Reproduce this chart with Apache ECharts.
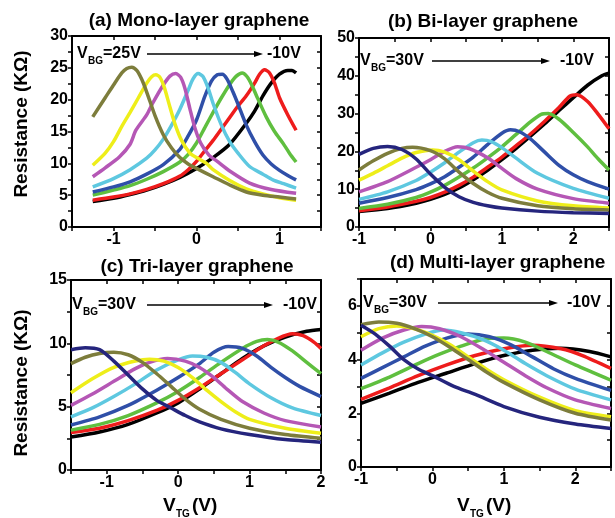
<!DOCTYPE html>
<html>
<head>
<meta charset="utf-8">
<script src="https://cdn.jsdelivr.net/npm/echarts@6/dist/echarts.min.js"></script>
<style>
  html, body { margin: 0; padding: 0; background: #fff; }
  #chart { width: 615px; height: 518px; }
</style>
</head>
<body>
<div id="chart"></div>
<script>
// one colour per back-gate voltage, from -10V (black) up to 30V (navy)
const curveColors = ['#000000', '#ee1c1c', '#5fbf3f', '#2f4fa8', '#5ec8e0', '#b557b5', '#eeee1a', '#7d7d3c', '#25257d'];

// (a) mono-layer: black, red, green, blue, cyan, magenta, yellow, olive  [V_TG, R]
const monoCurves = [
  [[-1.25,4.0],[-1.0,4.5],[-0.8,5.1],[-0.6,5.8],[-0.4,6.7],[-0.2,7.8],[0,9.2],[0.2,10.9],[0.4,13.0],[0.6,16.3],[0.7,18.2],[0.8,20.6],[0.9,22.6],[1.0,24.0],[1.1,24.6],[1.15,24.6],[1.2,24.2]],
  [[-1.25,4.2],[-1.0,4.7],[-0.8,5.2],[-0.6,5.9],[-0.4,6.8],[-0.2,8.0],[-0.1,9.0],[0,10.3],[0.12,12.3],[0.2,13.6],[0.3,15.4],[0.4,17.2],[0.5,19.0],[0.6,20.6],[0.7,22.6],[0.76,24.0],[0.82,24.7],[0.88,24.2],[0.94,22.6],[1.0,20.3],[1.1,17.6],[1.2,15.2]],
  [[-1.25,5.0],[-1.0,5.8],[-0.8,6.5],[-0.6,7.5],[-0.4,8.7],[-0.2,10.2],[-0.1,11.4],[0,13.2],[0.1,15.6],[0.2,18.0],[0.3,20.3],[0.4,22.4],[0.48,23.7],[0.55,24.2],[0.61,23.6],[0.67,22.2],[0.72,20.7],[0.84,17.3],[0.94,15.0],[1.04,13.2],[1.12,11.6],[1.2,10.2]],
  [[-1.25,5.5],[-1.0,6.3],[-0.8,7.1],[-0.6,8.3],[-0.4,9.8],[-0.2,12.2],[-0.1,14.3],[0,16.8],[0.1,20.5],[0.18,22.9],[0.25,23.9],[0.31,24.0],[0.37,23.2],[0.44,21.2],[0.5,19.3],[0.6,16.0],[0.7,13.4],[0.8,11.3],[0.9,9.9],[1.0,8.9],[1.1,8.1],[1.2,7.4]],
  [[-1.25,6.3],[-1.0,7.6],[-0.8,9.0],[-0.6,10.8],[-0.5,12.1],[-0.4,13.8],[-0.3,16.0],[-0.2,18.5],[-0.1,21.5],[-0.04,23.3],[0.02,24.1],[0.08,23.6],[0.14,21.8],[0.2,19.4],[0.3,16.0],[0.4,13.4],[0.5,11.6],[0.64,9.5],[0.8,8.3],[0.92,7.4],[1.05,6.8],[1.2,6.1]],
  [[-1.25,7.9],[-1.1,9.3],[-0.93,11.0],[-0.8,13.0],[-0.73,15.2],[-0.6,17.6],[-0.53,19.4],[-0.4,22.3],[-0.32,23.7],[-0.25,24.1],[-0.19,23.5],[-0.14,21.8],[-0.08,18.6],[-0.02,15.6],[0.05,13.2],[0.15,11.3],[0.25,10.3],[0.4,8.8],[0.64,6.9],[0.9,5.9],[1.2,5.3]],
  [[-1.25,9.7],[-1.1,11.6],[-1.0,13.4],[-0.9,15.8],[-0.8,18.0],[-0.7,20.3],[-0.6,22.6],[-0.54,23.6],[-0.49,23.9],[-0.44,23.5],[-0.39,22.0],[-0.33,19.3],[-0.26,16.2],[-0.18,13.6],[-0.08,11.6],[0,10.9],[0.12,10.0],[0.2,9.0],[0.4,7.3],[0.6,6.0],[0.8,5.2],[1.0,4.6],[1.2,4.2]],
  [[-1.25,17.3],[-1.1,20.3],[-1.0,22.3],[-0.9,24.2],[-0.84,24.9],[-0.78,25.1],[-0.72,24.6],[-0.66,23.2],[-0.6,21.2],[-0.5,17.5],[-0.4,14.5],[-0.3,12.4],[-0.2,10.9],[-0.1,9.9],[0,9.2],[0.2,7.9],[0.4,6.6],[0.6,5.5],[0.8,5.0],[1.0,4.7],[1.2,4.4]]
];

// (b) bi-layer: black ... navy
const biCurves = [
  [[-1,4.1],[-0.6,4.9],[-0.2,6.3],[0,7.3],[0.2,8.6],[0.4,10.3],[0.6,12.5],[0.8,15.0],[1.0,17.8],[1.2,20.8],[1.4,24.0],[1.6,27.3],[1.8,30.8],[2.0,34.2],[2.2,37.5],[2.4,40.0],[2.5,40.7]],
  [[-1,4.3],[-0.6,5.3],[-0.2,6.8],[0,7.8],[0.2,9.2],[0.4,11.0],[0.6,13.2],[0.8,15.8],[1.0,18.5],[1.2,21.5],[1.4,24.6],[1.6,28.0],[1.8,31.6],[1.95,34.6],[2.05,35.0],[2.2,33.2],[2.35,29.8],[2.5,26.0]],
  [[-1,4.9],[-0.6,6.0],[-0.2,7.8],[0,9.2],[0.2,11.0],[0.4,13.2],[0.6,15.6],[0.8,18.3],[1.0,21.2],[1.2,24.5],[1.4,27.8],[1.55,29.8],[1.65,30.0],[1.8,28.5],[2.0,25.0],[2.2,21.2],[2.35,18.0],[2.5,15.1]],
  [[-1,6.3],[-0.6,7.8],[-0.2,9.9],[0,11.4],[0.2,13.3],[0.4,15.8],[0.6,18.5],[0.8,21.8],[1.0,24.8],[1.12,25.7],[1.25,25.2],[1.4,23.3],[1.6,19.8],[1.8,16.3],[2.0,13.8],[2.2,12.0],[2.5,10.0]],
  [[-1,7.3],[-0.6,9.3],[-0.2,12.3],[0,14.5],[0.2,17.0],[0.4,19.8],[0.6,22.3],[0.72,23.0],[0.85,22.6],[1.0,21.0],[1.2,18.2],[1.5,14.2],[2.0,10.2],[2.5,7.6]],
  [[-1,9.3],[-0.6,12.0],[-0.2,15.8],[0,17.8],[0.2,20.0],[0.38,21.2],[0.55,20.7],[0.8,18.3],[1.0,15.5],[1.2,12.8],[1.5,10.0],[2.0,7.5],[2.5,6.3]],
  [[-1,12.4],[-0.8,14.2],[-0.6,16.2],[-0.4,18.2],[-0.2,19.7],[0.03,20.4],[0.2,19.8],[0.4,17.8],[0.6,14.8],[0.8,12.0],[1.0,9.8],[1.5,6.9],[2.0,5.6],[2.5,5.0]],
  [[-1,15.1],[-0.8,17.5],[-0.6,19.5],[-0.4,20.8],[-0.25,21.1],[0,20.2],[0.2,18.0],[0.4,14.5],[0.6,11.5],[0.8,9.2],[1.0,7.6],[1.5,5.6],[2.0,4.8],[2.5,4.5]],
  [[-1,19.2],[-0.8,20.8],[-0.6,21.3],[-0.4,20.5],[-0.2,18.0],[0,14.0],[0.2,10.5],[0.4,8.0],[0.6,6.5],[0.8,5.6],[1.0,5.0],[1.5,4.2],[2.0,3.8],[2.5,3.6]]
];

// (c) tri-layer
const triCurves = [
  [[-1.5,2.6],[-1.1,3.0],[-0.7,3.6],[-0.3,4.5],[0,5.3],[0.3,6.4],[0.6,7.6],[0.9,8.8],[1.2,9.8],[1.5,10.5],[1.8,10.95],[2.0,11.1]],
  [[-1.5,2.95],[-1.1,3.3],[-0.7,3.9],[-0.3,4.7],[0,5.5],[0.3,6.5],[0.6,7.6],[0.9,8.7],[1.2,9.8],[1.4,10.4],[1.6,10.75],[1.75,10.6],[1.9,10.1],[2.0,9.6]],
  [[-1.5,3.15],[-1.1,3.6],[-0.7,4.3],[-0.3,5.3],[0,6.2],[0.3,7.3],[0.6,8.5],[0.9,9.6],[1.1,10.15],[1.25,10.3],[1.4,10.1],[1.6,9.4],[1.8,8.5],[2.0,7.6]],
  [[-1.5,3.55],[-1.1,4.2],[-0.7,5.1],[-0.3,6.3],[0,7.3],[0.3,8.4],[0.5,9.3],[0.7,9.75],[0.9,9.6],[1.1,9.0],[1.3,8.1],[1.5,7.3],[1.7,6.6],[2.0,5.8]],
  [[-1.5,4.2],[-1.2,4.9],[-0.9,5.8],[-0.6,6.8],[-0.3,7.9],[0,8.7],[0.2,9.0],[0.4,8.9],[0.6,8.5],[0.8,7.7],[1.0,6.8],[1.3,5.7],[1.6,4.9],[2.0,4.3]],
  [[-1.5,5.1],[-1.2,6.0],[-0.9,7.0],[-0.6,8.0],[-0.4,8.5],[-0.15,8.8],[0.1,8.6],[0.3,8.1],[0.5,7.3],[0.7,6.3],[0.9,5.4],[1.2,4.5],[1.5,3.9],[2.0,3.4]],
  [[-1.5,6.1],[-1.2,7.2],[-0.9,8.1],[-0.6,8.6],[-0.4,8.75],[-0.2,8.6],[0,8.1],[0.2,7.3],[0.4,6.3],[0.6,5.4],[0.8,4.6],[1.0,4.0],[1.5,3.3],[2.0,2.9]],
  [[-1.5,8.4],[-1.3,8.9],[-1.1,9.2],[-0.9,9.3],[-0.7,9.1],[-0.5,8.5],[-0.3,7.6],[-0.1,6.6],[0.1,5.6],[0.3,4.8],[0.6,4.0],[1.0,3.3],[1.5,2.8],[2.0,2.5]],
  [[-1.5,9.5],[-1.3,9.65],[-1.1,9.5],[-0.9,8.6],[-0.7,7.5],[-0.5,6.4],[-0.3,5.5],[-0.1,4.9],[0.1,4.3],[0.3,3.8],[0.6,3.25],[1.0,2.8],[1.5,2.4],[2.0,2.2]]
];

// (d) multi-layer
const multiCurves = [
  [[-1,2.37],[-0.6,2.75],[-0.2,3.15],[0.2,3.5],[0.6,3.85],[1.0,4.15],[1.4,4.35],[1.8,4.42],[2.2,4.3],[2.5,4.1]],
  [[-1,2.52],[-0.6,2.95],[-0.2,3.4],[0.2,3.8],[0.6,4.15],[1.0,4.4],[1.4,4.53],[1.8,4.4],[2.1,4.15],[2.5,3.67]],
  [[-1,2.92],[-0.6,3.35],[-0.2,3.85],[0.1,4.2],[0.4,4.5],[0.7,4.75],[1.0,4.8],[1.3,4.65],[1.6,4.3],[2.0,3.8],[2.5,3.23]],
  [[-1,3.3],[-0.7,3.7],[-0.4,4.1],[-0.1,4.5],[0.2,4.8],[0.5,4.95],[0.8,4.85],[1.1,4.55],[1.4,4.1],[1.7,3.65],[2.0,3.3],[2.5,2.85]],
  [[-1,3.8],[-0.7,4.25],[-0.4,4.65],[-0.1,4.95],[0.15,5.1],[0.4,5.0],[0.7,4.75],[1.0,4.35],[1.3,3.85],[1.6,3.4],[2.0,2.9],[2.5,2.5]],
  [[-1,4.35],[-0.7,4.8],[-0.4,5.1],[-0.15,5.23],[0.1,5.15],[0.4,4.85],[0.7,4.4],[1.0,3.9],[1.3,3.4],[1.6,2.95],[2.0,2.5],[2.5,2.18]],
  [[-1,4.85],[-0.75,5.15],[-0.5,5.25],[-0.25,5.15],[0,4.9],[0.25,4.55],[0.5,4.1],[0.75,3.65],[1.0,3.25],[1.5,2.6],[2.0,2.1],[2.5,1.87]],
  [[-1,5.3],[-0.75,5.4],[-0.5,5.35],[-0.25,5.15],[0,4.85],[0.25,4.45],[0.5,4.0],[0.75,3.55],[1.0,3.15],[1.5,2.5],[2.0,2.0],[2.5,1.75]],
  [[-1,5.28],[-0.8,4.95],[-0.6,4.5],[-0.4,4.0],[-0.2,3.65],[0,3.4],[0.3,3.0],[0.6,2.7],[1.0,2.25],[1.5,1.85],[2.0,1.6],[2.5,1.43]]
];

const panelTitles = ['(a) Mono-layer graphene', '(b) Bi-layer graphene', '(c) Tri-layer graphene', '(d) Multi-layer graphene'];
const startVoltages = ['=25V', '=30V', '=30V', '=30V'];
const xRanges = [[-1.5, 1.5], [-1, 2.5], [-1.5, 2], [-1, 2.5]];
// [min, max, tick step, label step]
const yRanges = [[0, 30, 2.5, 5], [0, 50, 5, 10], [0, 15, 2.5, 5], [0, 7, 1, 2]];

const panels = [
  { curves: monoCurves, grid: { left: 72, top: 36, width: 249, height: 191 }, title: [199, 21, 'center'], note: [77, 54, 147, 263, 267] },
  { curves: biCurves, grid: { left: 359, top: 38, width: 250, height: 189 }, title: [483, 22, 'center'], note: [360, 61, 432, 550, 560] },
  { curves: triCurves, grid: { left: 71, top: 280, width: 250, height: 190 }, title: [197, 267, 'center'], note: [72, 305, 147, 273, 283] },
  { curves: multiCurves, grid: { left: 361, top: 279, width: 250, height: 188 }, title: [390, 263, 'left'], note: [363, 303, 438, 558, 567] }
];

const FONT = '"Liberation Sans", Arial, sans-serif';
const lineStyle = { color: '#000', width: 2 };
const tickStyle = { color: '#000', width: 1.5 };

function onStep(v, step, max) {
  const r = v / step;
  return Math.abs(r - Math.round(r)) < 1e-6 && v <= max + 1e-9;
}

const xAxis = [], yAxis = [], series = [], graphic = [];

panels.forEach((p, i) => {
  const xr = xRanges[i], yr = yRanges[i];
  const xBase = {
    gridIndex: i, type: 'value', min: xr[0], max: xr[1], interval: 0.5,
    splitLine: { show: false },
    axisLine: { onZero: false, lineStyle: lineStyle }
  };
  xAxis.push(Object.assign({}, xBase, {
    position: 'bottom',
    axisTick: { length: 4, lineStyle: tickStyle },
    axisLabel: {
      margin: 5, color: '#000', fontFamily: FONT, fontWeight: 'bold', fontSize: 16,
      formatter: v => (onStep(v, 1, xr[1]) && v > xr[0] - 1e-9) ? String(Math.round(v)) : ''
    }
  }));
  xAxis.push(Object.assign({}, xBase, {
    position: 'top',
    axisTick: { inside: true, length: 4, lineStyle: tickStyle },
    axisLabel: { show: false }
  }));
  const yBase = {
    gridIndex: i, type: 'value', min: yr[0], max: yr[1], interval: yr[2],
    splitLine: { show: false },
    axisLine: { show: true, onZero: false, lineStyle: lineStyle }
  };
  yAxis.push(Object.assign({}, yBase, {
    position: 'left',
    axisTick: { length: 4, lineStyle: tickStyle },
    axisLabel: {
      margin: 4, color: '#000', fontFamily: FONT, fontWeight: 'bold', fontSize: 16,
      formatter: v => onStep(v, yr[3], yr[1]) ? String(v) : ''
    }
  }));
  yAxis.push(Object.assign({}, yBase, {
    position: 'right',
    axisTick: { inside: true, length: 4, lineStyle: tickStyle },
    axisLabel: { show: false }
  }));

  p.curves.forEach((c, j) => {
    series.push({
      type: 'line', xAxisIndex: 2 * i, yAxisIndex: 2 * i, data: c,
      showSymbol: false, smooth: 0.25, silent: true, z: 2 + j,
      lineStyle: { width: 3.5, color: curveColors[j] },
      itemStyle: { color: curveColors[j] }
    });
  });

  // panel title
  graphic.push({
    type: 'text', x: p.title[0], y: p.title[1],
    style: { text: panelTitles[i], fill: '#000', font: 'bold 19px ' + FONT, textAlign: p.title[2], textVerticalAlign: 'middle' }
  });

  // V_BG annotation with arrow
  const [nx, ny, ax0, ax1, ex] = p.note;
  graphic.push(
    { type: 'text', x: nx, y: ny, style: { text: 'V', fill: '#000', font: 'bold 16px ' + FONT, textVerticalAlign: 'middle' } },
    { type: 'text', x: nx + 11, y: ny + 7, style: { text: 'BG', fill: '#000', font: 'bold 10px ' + FONT, textVerticalAlign: 'middle' } },
    { type: 'text', x: nx + 26, y: ny, style: { text: startVoltages[i], fill: '#000', font: 'bold 16px ' + FONT, textVerticalAlign: 'middle' } },
    { type: 'line', shape: { x1: ax0, y1: ny, x2: ax1 - 6, y2: ny }, style: { stroke: '#000', lineWidth: 1.5 } },
    { type: 'polygon', shape: { points: [[ax1, ny], [ax1 - 9, ny - 3], [ax1 - 9, ny + 3]] }, style: { fill: '#000' } },
    { type: 'text', x: ex, y: ny, style: { text: '-10V', fill: '#000', font: 'bold 16px ' + FONT, textVerticalAlign: 'middle' } }
  );
});

// axis names
[[22, 124], [22, 383]].forEach(pos => {
  graphic.push({
    type: 'text', x: pos[0], y: pos[1], rotation: Math.PI / 2,
    style: { text: 'Resistance (KΩ)', fill: '#000', font: 'bold 19px ' + FONT, textAlign: 'center', textVerticalAlign: 'middle' }
  });
});
[163, 457].forEach(x0 => {
  graphic.push(
    { type: 'text', x: x0, y: 506, style: { text: 'V', fill: '#000', font: 'bold 19px ' + FONT, textVerticalAlign: 'middle' } },
    { type: 'text', x: x0 + 13, y: 514, style: { text: 'TG', fill: '#000', font: 'bold 10px ' + FONT, textVerticalAlign: 'middle' } },
    { type: 'text', x: x0 + 29, y: 506, style: { text: '(V)', fill: '#000', font: 'bold 19px ' + FONT, textVerticalAlign: 'middle' } }
  );
});

const chart = echarts.init(document.getElementById('chart'));
chart.setOption({
  animation: false,
  backgroundColor: '#fff',
  grid: panels.map(p => Object.assign({ containLabel: false }, p.grid)),
  xAxis: xAxis,
  yAxis: yAxis,
  series: series,
  graphic: graphic
});
</script>
</body>
</html>
